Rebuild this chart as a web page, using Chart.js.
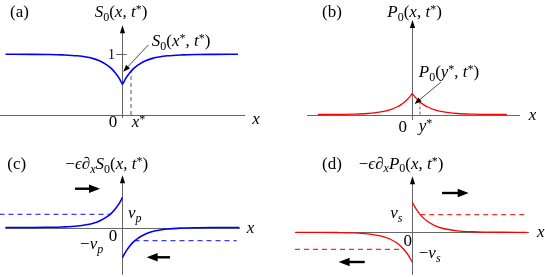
<!DOCTYPE html>
<html>
<head>
<meta charset="utf-8">
<script src="https://cdn.jsdelivr.net/npm/chart.js@4"></script>
<style>
  html, body { margin: 0; padding: 0; background: #fff; }
  #wrap { position: relative; width: 545px; height: 277px; overflow: hidden; }
  canvas { position: absolute; }
</style>
</head>
<body>
<div id="wrap">
  <canvas id="pa" width="272" height="138" style="left:0;top:0"></canvas>
  <canvas id="pb" width="273" height="138" style="left:272px;top:0"></canvas>
  <canvas id="pc" width="272" height="139" style="left:0;top:138px"></canvas>
  <canvas id="pd" width="273" height="139" style="left:272px;top:138px"></canvas>
</div>
<script>
// sample positions along x (one half, distance from the origin)
const halfX = [0, 0.25, 0.5, 0.75, 1, 1.5, 2, 3, 4, 5, 6, 7.8];
const halfXb = [0, 0.25, 0.5, 0.75, 1, 1.5, 2, 3, 4, 5, 6.3];

// (a) S0(x, t*)
const s0Half = [0.506, 0.615, 0.70, 0.767, 0.818, 0.89, 0.933, 0.975, 0.991, 0.997, 0.999, 1.0];
const xStar = 0.57;
const s0AtXStar = 0.72;

// (b) P0(x, t*)
const p0Half = [0.35, 0.273, 0.212, 0.165, 0.129, 0.078, 0.047, 0.017, 0.006, 0.002, 0.0];
const yStar = 0.51;
const p0AtYStar = 0.21;

// (c) -eps d_x S0  (left branch positive, right branch negative)
const dS0Left = [1.0, 0.779, 0.607, 0.472, 0.368, 0.223, 0.135, 0.05, 0.018, 0.007, 0.002, 0.0];
const dS0Right = [-1.0, -0.779, -0.607, -0.472, -0.368, -0.223, -0.135, -0.05, -0.018, -0.007, -0.002, 0.0];
const vp = 0.44;

// (d) -eps d_x P0  (left branch negative, right branch positive)
const dP0Left = [-1.0, -0.779, -0.607, -0.472, -0.368, -0.223, -0.135, -0.05, -0.018, -0.007, -0.002, 0.0];
const dP0Right = [1.0, 0.779, 0.607, 0.472, 0.368, 0.223, 0.135, 0.05, 0.018, 0.007, 0.002, 0.0];
const vs = 0.59;

const FONT = '"Liberation Serif", "DejaVu Serif", serif';
const FS = 17;

function branch(xs, ys, sign, color, width) {
  return {
    data: xs.map((x, i) => ({ x: sign * x, y: ys[i] })),
    borderColor: color, borderWidth: width, pointRadius: 0, fill: false,
    cubicInterpolationMode: 'monotone'
  };
}

function seg(x1, y1, x2, y2, color, width, dash) {
  return {
    data: [{ x: x1, y: y1 }, { x: x2, y: y2 }],
    borderColor: color, borderWidth: width, borderDash: dash, pointRadius: 0, fill: false
  };
}

// kinds: i = italic, b = subscript, p = superscript
function mathText(ctx, segs, x, y, align, size) {
  const parts = segs.map(([t, k]) => {
    const small = k.includes('b') || k.includes('p');
    const s = small ? Math.round(size * 0.7) : size;
    const font = (k.includes('i') ? 'italic ' : '') + s + 'px ' + FONT;
    ctx.font = font;
    const dy = k.includes('b') ? size * 0.22 : k.includes('p') ? -size * 0.22 : 0;
    return { t, font, w: ctx.measureText(t).width, dy };
  });
  const total = parts.reduce((a, p) => a + p.w, 0);
  let cx = align === 'center' ? x - total / 2 : align === 'right' ? x - total : x;
  ctx.textAlign = 'left';
  ctx.textBaseline = 'alphabetic';
  ctx.fillStyle = '#000';
  parts.forEach(p => { ctx.font = p.font; ctx.fillText(p.t, cx, y + p.dy); cx += p.w; });
}

function tri(ctx, tx, ty, dx, dy, len, half) {
  // filled arrow head with tip (tx,ty) pointing along (dx,dy)
  const n = Math.hypot(dx, dy); dx /= n; dy /= n;
  const bx = tx - dx * len, by = ty - dy * len;
  ctx.beginPath();
  ctx.moveTo(tx, ty);
  ctx.lineTo(bx - dy * half, by + dx * half);
  ctx.lineTo(bx + dy * half, by - dx * half);
  ctx.closePath();
  ctx.fill();
}

function makePanel(id, view, datasets, draw) {
  const c = document.getElementById(id);
  const W = c.width, H = c.height;
  const deco = {
    id: 'deco',
    beforeDatasetsDraw(chart) {
      const ctx = chart.ctx, sx = chart.scales.x, sy = chart.scales.y;
      const X = v => sx.getPixelForValue(v), Y = v => sy.getPixelForValue(v);
      ctx.save();
      ctx.strokeStyle = '#666';
      ctx.lineWidth = 1;
      ctx.beginPath();
      ctx.moveTo(X(view.xAxis[0]), Math.round(Y(0)) + 0.5);
      ctx.lineTo(X(view.xAxis[1]), Math.round(Y(0)) + 0.5);
      const ax = Math.round(X(0)) + 0.5;
      ctx.moveTo(ax, Y(view.yAxis[0]));
      ctx.lineTo(ax, Y(view.yAxis[1]) + 6);
      ctx.stroke();
      ctx.fillStyle = '#000';
      tri(ctx, ax, Y(view.yAxis[1]), 0, -1, 8, 2.6);
      ctx.restore();
    },
    afterDatasetsDraw(chart) {
      const ctx = chart.ctx, sx = chart.scales.x, sy = chart.scales.y;
      const X = v => sx.getPixelForValue(v), Y = v => sy.getPixelForValue(v);
      ctx.save();
      draw(ctx, X, Y);
      ctx.restore();
    }
  };
  new Chart(c, {
    type: 'line',
    data: { datasets },
    options: {
      responsive: false, animation: false, events: [],
      layout: { padding: 0 },
      scales: {
        x: { type: 'linear', display: false, min: -view.ox / view.kx, max: (W - view.ox) / view.kx },
        y: { type: 'linear', display: false, min: -(H - view.oy) / view.ky, max: view.oy / view.ky }
      },
      plugins: { legend: { display: false }, tooltip: { enabled: false } }
    },
    plugins: [deco]
  });
}

function pointer(ctx, x1, y1, x2, y2) {
  ctx.strokeStyle = '#222';
  ctx.lineWidth = 0.8;
  ctx.beginPath();
  ctx.moveTo(x1, y1);
  ctx.lineTo(x2 + (x1 - x2) * 0.1, y2 + (y1 - y2) * 0.1);
  ctx.stroke();
  ctx.fillStyle = '#000';
  tri(ctx, x2, y2, x2 - x1, y2 - y1, 7, 2.6);
}

function bigArrow(ctx, x1, y, x2) {
  const d = Math.sign(x2 - x1);
  ctx.strokeStyle = '#000';
  ctx.fillStyle = '#000';
  ctx.lineWidth = 2.4;
  ctx.beginPath();
  ctx.moveTo(x1, y);
  ctx.lineTo(x2 - d * 8, y);
  ctx.stroke();
  tri(ctx, x2, y, d, 0, 11, 4.2);
}

const BLUE = '#0000ff', RED = '#ff0000';
const BLUE_D = '#3a3aff', RED_D = '#f03030';

const lblS0 = [['S', 'i'], ['0', 'b'], ['(', 'r'], ['x', 'i'], [', ', 'r'], ['t', 'i'], ['*', 'p'], [')', 'r']];
const lblS0star = [['S', 'i'], ['0', 'b'], ['(', 'r'], ['x', 'i'], ['*', 'p'], [', ', 'r'], ['t', 'i'], ['*', 'p'], [')', 'r']];
const lblP0 = [['P', 'i'], ['0', 'b'], ['(', 'r'], ['x', 'i'], [', ', 'r'], ['t', 'i'], ['*', 'p'], [')', 'r']];
const lblP0star = [['P', 'i'], ['0', 'b'], ['(', 'r'], ['y', 'i'], ['*', 'p'], [', ', 'r'], ['t', 'i'], ['*', 'p'], [')', 'r']];
const lblDS0 = [['\u2212', 'r'], ['\u03F5', 'i'], ['\u2202', 'r'], ['x', 'bi'], ['S', 'i'], ['0', 'b'], ['(', 'r'], ['x', 'i'], [', ', 'r'], ['t', 'i'], ['*', 'p'], [')', 'r']];
const lblDP0 = [['\u2212', 'r'], ['\u03F5', 'i'], ['\u2202', 'r'], ['x', 'bi'], ['P', 'i'], ['0', 'b'], ['(', 'r'], ['x', 'i'], [', ', 'r'], ['t', 'i'], ['*', 'p'], [')', 'r']];
const X_ = [['x', 'i']], ZERO = [['0', 'r']];

// (a)
makePanel('pa', { ox: 122.5, oy: 115, kx: 15, ky: 60.7, xAxis: [-8.2, 8.17], yAxis: [-0.05, 1.48] }, [
  branch(halfX, s0Half, -1, BLUE, 1.6),
  branch(halfX.slice(0, 11).concat([7.7]), s0Half, 1, BLUE, 1.6),
  seg(xStar, 0, xStar, s0AtXStar, '#aaaaaa', 2, [4, 3])
], (ctx, X, Y) => {
  ctx.strokeStyle = '#666'; ctx.lineWidth = 1;
  ctx.beginPath(); ctx.moveTo(X(-0.42), Math.round(Y(1)) + 0.5); ctx.lineTo(X(0.28), Math.round(Y(1)) + 0.5); ctx.stroke();
  mathText(ctx, [['(a)', 'r']], X(-7.5), Y(1.614), 'left', FS);
  mathText(ctx, lblS0, X(-0.1), Y(1.614), 'center', FS);
  mathText(ctx, [['1', 'r']], X(-0.5), Y(1) + 5, 'right', FS - 3);
  mathText(ctx, X_, X(8.65), Y(-0.148), 'left', FS);
  mathText(ctx, ZERO, X(-0.35), Y(-0.198), 'right', FS);
  mathText(ctx, [['x', 'i'], ['*', 'p']], X(0.61), Y(-0.198), 'left', FS);
  mathText(ctx, lblS0star, X(1.95), Y(1.137), 'left', FS);
  pointer(ctx, X(1.72), Y(1.153), X(0.05), Y(0.713));
});

// (b)
makePanel('pb', { ox: 140.3, oy: 114.5, kx: 15, ky: 60, xAxis: [-7.02, 7.18], yAxis: [-0.09, 1.575] }, [
  branch(halfXb, p0Half, -1, RED, 1.3),
  branch(halfXb, p0Half, 1, RED, 1.3),
  seg(yStar, 0, yStar, p0AtYStar, '#555', 0.9, [3, 2])
], (ctx, X, Y) => {
  mathText(ctx, [['(b)', 'r']], X(-6.02), Y(1.625), 'left', FS);
  mathText(ctx, lblP0, X(0.15), Y(1.625), 'center', FS);
  mathText(ctx, X_, X(7.76), Y(-0.092), 'left', FS);
  mathText(ctx, ZERO, X(-0.35), Y(-0.29), 'right', FS);
  mathText(ctx, [['y', 'i'], ['*', 'p']], X(0.43), Y(-0.275), 'left', FS);
  mathText(ctx, lblP0star, X(0.43), Y(0.625), 'left', FS);
  pointer(ctx, X(1.91), Y(0.54), X(0.15), Y(0.175));
});

// (c)
makePanel('pc', { ox: 122.5, oy: 89.5, kx: 15, ky: 30, xAxis: [-7.83, 7.83], yAxis: [-1.58, 1.74] }, [
  branch(halfX, dS0Left, -1, BLUE, 1.6),
  branch(halfX, dS0Right, 1, BLUE, 1.6),
  seg(-8.2, vp, -0.82, vp, BLUE_D, 1.3, [5, 4]),
  seg(0.8, -vp, 7.61, -vp, BLUE_D, 1.3, [5, 4])
], (ctx, X, Y) => {
  mathText(ctx, [['(c)', 'r']], X(-7.68), Y(1.95), 'left', FS);
  mathText(ctx, lblDS0, X(-1.05), Y(1.95), 'center', FS);
  mathText(ctx, X_, X(8.28), Y(-0.183), 'left', FS);
  mathText(ctx, ZERO, X(-0.35), Y(-0.45), 'right', FS);
  mathText(ctx, [['v', 'i'], ['p', 'bi']], X(0.37), Y(0.317), 'left', FS);
  mathText(ctx, [['\u2212', 'r'], ['v', 'i'], ['p', 'bi']], X(-2.83), Y(-0.717), 'left', FS);
  bigArrow(ctx, X(-3.17), Y(1.293), X(-1.5));
  bigArrow(ctx, X(3.17), Y(-0.993), X(1.61));
});

// (d)
makePanel('pd', { ox: 140.3, oy: 94.3, kx: 15, ky: 30, xAxis: [-7.82, 7.78], yAxis: [-1.42, 1.87] }, [
  branch(halfX, dP0Left, -1, RED, 1.3),
  branch(halfX.slice(0, 11).concat([7.65]), dP0Right, 1, RED, 1.3),
  seg(0.53, vs, 7.65, vs, RED_D, 1.2, [5, 4]),
  seg(-7.82, -vs + 0.02, -0.55, -vs + 0.02, RED_D, 1.2, [5, 4])
], (ctx, X, Y) => {
  mathText(ctx, [['(d)', 'r']], X(-6.02), Y(2.12), 'left', FS);
  mathText(ctx, lblDP0, X(-0.75), Y(2.12), 'center', FS);
  mathText(ctx, X_, X(8.31), Y(-0.157), 'left', FS);
  mathText(ctx, ZERO, X(-0.02), Y(-0.457), 'right', FS);
  mathText(ctx, [['v', 'i'], ['s', 'bi']], X(-1.47), Y(0.477), 'left', FS);
  mathText(ctx, [['\u2212', 'r'], ['v', 'i'], ['s', 'bi']], X(0.43), Y(-0.857), 'left', FS);
  bigArrow(ctx, X(1.98), Y(1.31), X(3.76));
  bigArrow(ctx, X(-3.17), Y(-0.99), X(-4.91));
});
</script>
</body>
</html>
